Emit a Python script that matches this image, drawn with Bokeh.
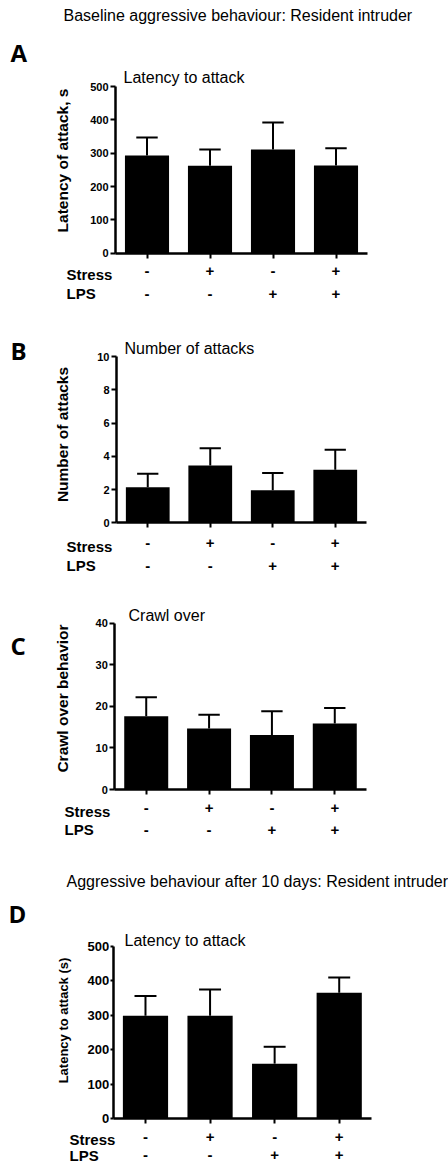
import math
from bokeh.plotting import figure
from bokeh.models import Label, FixedTicker, Range1d
from bokeh.layouts import column
from bokeh.embed import file_html
from bokeh.resources import INLINE

# ---- data ----
stress_signs = ["-", "+", "-", "+"]
lps_signs = ["-", "-", "+", "+"]

a_mean = [293, 262, 311, 263]
a_err = [54, 49, 81, 52]
a_ticks = [0, 100, 200, 300, 400, 500]

b_mean = [2.14, 3.45, 1.96, 3.19]
b_err = [0.81, 1.04, 1.04, 1.20]
b_ticks = [0, 2, 4, 6, 8, 10]

c_mean = [17.6, 14.7, 13.1, 15.9]
c_err = [4.6, 3.3, 5.7, 3.7]
c_ticks = [0, 10, 20, 30, 40]

d_mean = [299, 299, 160, 366]
d_err = [57, 76, 49, 44]
d_ticks = [0, 100, 200, 300, 400, 500]

FONT = "Liberation Sans"
W = 448


def make_panel(h, fl, fr, ft, fb, ymax, ticks, mean, err, letter, letter_xy,
               subtitle, sub_xy, ylabel, ylab_xy, ylab_size, row_x, stress_y, lps_y,
               tick_size="11px", tick_out=5, tick_standoff=2, header=None):
    n = len(mean)
    a0, a1 = -0.5, n - 0.5

    def dx(px):
        return a0 + (px - fl) / (fr - fl) * (a1 - a0)

    def dy(py):
        return ymax * (fb - py) / (fb - ft)

    p = figure(width=W, height=h, x_range=Range1d(dx(0), dx(W)), y_range=Range1d(dy(h), dy(0)),
               output_backend="svg", toolbar_location=None, title=None,
               min_border_left=0, min_border_right=0, min_border_top=0, min_border_bottom=0)
    p.outline_line_color = None
    p.xgrid.visible = False
    p.ygrid.visible = False
    p.background_fill_color = "white"
    p.border_fill_color = "white"

    xs = list(range(n))
    upper = [m + e for m, e in zip(mean, err)]

    p.vbar(x=xs, top=mean, bottom=0, width=0.7, fill_color="black", line_color=None)
    p.segment(x0=xs, y0=mean, x1=xs, y1=upper, line_color="black", line_width=2)
    p.segment(x0=[x - 0.17 for x in xs], y0=upper, x1=[x + 0.17 for x in xs], y1=upper,
              line_color="black", line_width=2)

    xa = p.xaxis[0]
    xa.fixed_location = 0
    xa.bounds = (a0, a1)
    xa.ticker = FixedTicker(ticks=xs)
    xa.major_label_overrides = {x: s for x, s in zip(xs, stress_signs)}
    xa.major_label_text_font = FONT
    xa.major_label_text_font_style = "bold"
    xa.major_label_text_font_size = "15px"
    xa.major_label_text_color = "black"
    xa.major_label_standoff = int(round(stress_y - fb - 5 - 8.5))
    xa.major_tick_out = 5
    xa.major_tick_in = 0
    xa.minor_tick_out = 0
    xa.minor_tick_in = 0
    xa.axis_line_width = 2.5
    xa.major_tick_line_width = 2

    ya = p.yaxis[0]
    ya.fixed_location = a0
    ya.bounds = (0, ymax)
    ya.ticker = FixedTicker(ticks=ticks)
    ya.major_label_text_font = FONT
    ya.major_label_text_font_style = "bold"
    ya.major_label_text_font_size = tick_size
    ya.major_label_text_color = "black"
    ya.major_label_standoff = tick_standoff
    ya.major_tick_out = tick_out
    ya.major_tick_in = 0
    ya.minor_tick_out = 0
    ya.minor_tick_in = 0
    ya.axis_line_width = 2.5
    ya.major_tick_line_width = 2

    def lab(text, x, y, size, style="normal", align="left", angle=0, font=FONT):
        p.add_layout(Label(x=x, y=y, text=text, text_font=font, text_font_size=size,
                           text_font_style=style, text_align=align, text_baseline="middle",
                           text_color="black", angle=angle))

    if header is not None:
        htext, hx, hy = header
        lab(htext, dx(hx), dy(hy), "16px")
    lab(letter, dx(letter_xy[0]), dy(letter_xy[1]), "24px", "bold", font="Open Sans")
    lab(subtitle, dx(sub_xy[0]), dy(sub_xy[1]), "16px")
    lab(ylabel, dx(ylab_xy[0]), dy(ylab_xy[1]), ylab_size, "bold", "center", math.pi / 2)
    lab("Stress", dx(row_x), dy(stress_y), "15px", "bold")
    lab("LPS", dx(row_x), dy(lps_y), "15px", "bold")
    for i, l in enumerate(lps_signs):
        lab(l, i, dy(lps_y), "15px", "bold", "center")
    return p


pA = make_panel(315, 115, 367, 86, 252.7, 500, a_ticks, a_mean, a_err,
                "A", (10, 52), "Latency to attack", (123, 77),
                "Latency of attack, s", (62, 160), "15.5px", 66, 274, 293,
                header=("Baseline aggressive behaviour: Resident intruder", 63, 15))

pB = make_panel(270, 116, 366, 41, 207.3, 10, b_ticks, b_mean, b_err,
                "B", (10, 35), "Number of attacks", (124, 33),
                "Number of attacks", (62, 119), "15.5px", 66, 230.7, 250)

pC = make_panel(265, 114.3, 365.7, 37.7, 204, 40, c_ticks, c_mean, c_err,
                "C", (10, 60), "Crawl over", (128, 30),
                "Crawl over behavior", (62, 113), "15.5px", 64, 226, 244.3)

pD = make_panel(314, 112.7, 371, 96, 268.3, 500, d_ticks, d_mean, d_err,
                "D", (8, 63), "Latency to attack", (124, 90),
                "Latency to attack (s)", (63, 170), "13px", 69, 289.3, 304.5,
                tick_size="13px", tick_out=3, tick_standoff=1,
                header=("Aggressive behaviour after 10 days: Resident intruder", 66, 30.7))

layout = column(pA, pB, pC, pD)
open("out.html", "w").write(file_html(layout, INLINE))
